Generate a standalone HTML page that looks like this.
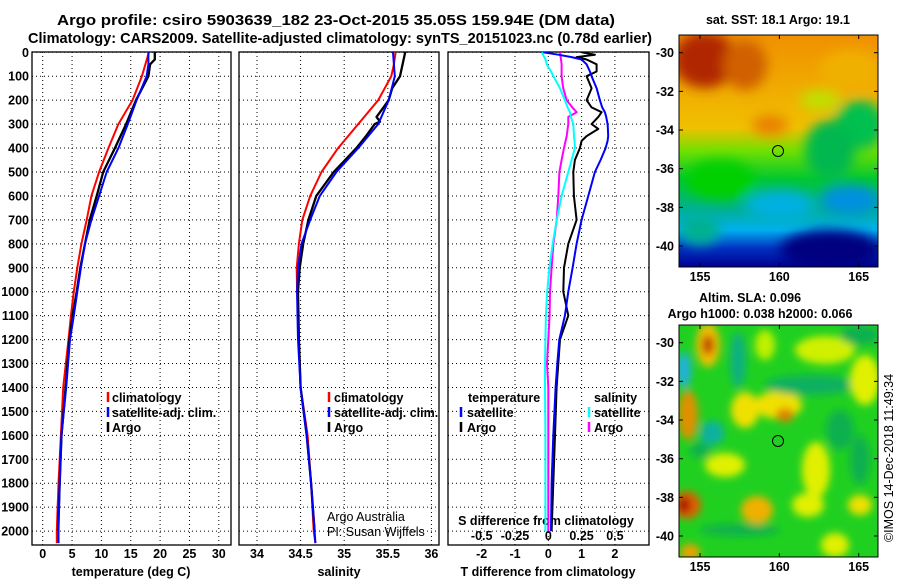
<!DOCTYPE html>
<html><head><meta charset="utf-8"><style>
body{margin:0;background:#fff;}
svg{display:block;font-family:"Liberation Sans",sans-serif;}
.b{font-weight:bold;font-size:12.5px;}
.n{font-size:12.5px;}
</style></head><body>
<svg id="chart" width="900" height="580" viewBox="0 0 900 580" xmlns="http://www.w3.org/2000/svg">
<defs>
<filter id="bl" x="-50%" y="-50%" width="200%" height="200%"><feGaussianBlur stdDeviation="6"/></filter>
<filter id="bl2" x="-50%" y="-50%" width="200%" height="200%"><feGaussianBlur stdDeviation="4"/></filter>
<clipPath id="c1"><rect x="679" y="35" width="199" height="232"/></clipPath>
<clipPath id="c2"><rect x="679" y="325" width="199" height="232"/></clipPath>
<linearGradient id="sst" x1="0" y1="0" x2="0" y2="1">
<stop offset="0" stop-color="#f09000"/><stop offset="0.4" stop-color="#f0c000"/><stop offset="0.5" stop-color="#70e000"/><stop offset="0.62" stop-color="#00c830"/><stop offset="0.75" stop-color="#00b090"/><stop offset="0.84" stop-color="#00b0f0"/><stop offset="0.92" stop-color="#0030c0"/><stop offset="1" stop-color="#000090"/>
</linearGradient>
</defs>
<text class="b" x="57" y="25" textLength="558" lengthAdjust="spacingAndGlyphs" style="font-size:15px">Argo profile: csiro 5903639_182 23-Oct-2015 35.05S 159.94E (DM data)</text>
<text class="b" x="28" y="43" textLength="624" lengthAdjust="spacingAndGlyphs" style="font-size:15px">Climatology: CARS2009. Satellite-adjusted climatology: synTS_20151023.nc (0.78d earlier)</text>
<g id="plots"></g>

<!-- SST map -->
<g clip-path="url(#c1)">
<rect x="679" y="35" width="199" height="232" fill="url(#sst)"/>
<g filter="url(#bl)">
<ellipse cx="705" cy="60" rx="32" ry="28" fill="#b02800"/>
<ellipse cx="745" cy="65" rx="22" ry="25" fill="#d06000"/>
<ellipse cx="770" cy="125" rx="18" ry="10" fill="#e88000"/>
<ellipse cx="850" cy="70" rx="30" ry="20" fill="#f0b000"/>
<ellipse cx="820" cy="100" rx="20" ry="10" fill="#c0e000"/>
<ellipse cx="860" cy="125" rx="25" ry="25" fill="#00c050"/>
<ellipse cx="830" cy="150" rx="25" ry="30" fill="#00b850"/>
<ellipse cx="720" cy="180" rx="35" ry="20" fill="#00d000"/>
<ellipse cx="780" cy="205" rx="35" ry="15" fill="#00b0e0"/>
<ellipse cx="850" cy="200" rx="30" ry="15" fill="#0090e0"/>
<ellipse cx="830" cy="250" rx="50" ry="20" fill="#000080"/>
<ellipse cx="700" cy="230" rx="20" ry="15" fill="#00b090"/>
</g>
</g>
<rect x="679" y="35" width="199" height="232" fill="none" stroke="#000"/>
<circle cx="778" cy="151" r="5.5" fill="none" stroke="#000"/>
<text class="b" x="778" y="24" text-anchor="middle">sat. SST: 18.1 Argo: 19.1</text>

<!-- SLA map -->
<g clip-path="url(#c2)">
<rect x="679" y="325" width="199" height="232" fill="#20d020"/>
<g filter="url(#bl2)">
<ellipse cx="708" cy="345" rx="12" ry="22" fill="#f0c000"/>
<ellipse cx="708" cy="345" rx="6" ry="10" fill="#c04000"/>
<ellipse cx="684" cy="370" rx="7" ry="18" fill="#20b0e0"/>
<ellipse cx="738" cy="360" rx="8" ry="28" fill="#10b080"/>
<ellipse cx="688" cy="415" rx="10" ry="25" fill="#e09000"/>
<ellipse cx="712" cy="433" rx="12" ry="12" fill="#10b0a0"/>
<ellipse cx="745" cy="410" rx="14" ry="18" fill="#f0e000"/>
<ellipse cx="778" cy="405" rx="24" ry="14" fill="#f0e000"/>
<ellipse cx="785" cy="415" rx="9" ry="7" fill="#e08000"/>
<ellipse cx="810" cy="385" rx="45" ry="10" fill="#10b060"/>
<ellipse cx="825" cy="350" rx="30" ry="14" fill="#d0f000"/>
<ellipse cx="865" cy="380" rx="15" ry="25" fill="#e0f000"/>
<ellipse cx="816" cy="470" rx="14" ry="28" fill="#e0f000"/>
<ellipse cx="840" cy="430" rx="14" ry="20" fill="#10b050"/>
<ellipse cx="860" cy="460" rx="10" ry="25" fill="#10b050"/>
<ellipse cx="725" cy="465" rx="20" ry="12" fill="#e0f000"/>
<ellipse cx="700" cy="450" rx="10" ry="8" fill="#10b050"/>
<ellipse cx="687" cy="505" rx="14" ry="14" fill="#e06000"/>
<ellipse cx="684" cy="505" rx="6" ry="8" fill="#a00000"/>
<ellipse cx="757" cy="510" rx="16" ry="14" fill="#f0b000"/>
<ellipse cx="808" cy="505" rx="16" ry="12" fill="#e0f000"/>
<ellipse cx="860" cy="505" rx="12" ry="10" fill="#f0e000"/>
<ellipse cx="740" cy="530" rx="40" ry="6" fill="#10b050"/>
<ellipse cx="835" cy="545" rx="14" ry="12" fill="#e0f000"/>
<ellipse cx="690" cy="552" rx="10" ry="8" fill="#f0a000"/>
<ellipse cx="860" cy="335" rx="20" ry="10" fill="#10b050"/>
<ellipse cx="765" cy="345" rx="10" ry="15" fill="#c0f000"/>
</g>
</g>
<rect x="679" y="325" width="199" height="232" fill="none" stroke="#000"/>
<circle cx="778" cy="441" r="5.5" fill="#20d020" stroke="#000"/>
<text class="b" x="750" y="302" text-anchor="middle">Altim. SLA: 0.096</text>
<text class="b" x="760" y="318" text-anchor="middle">Argo h1000: 0.038 h2000: 0.066</text>
<text class="n" transform="translate(893,458) rotate(-90)" text-anchor="middle">©IMOS 14-Dec-2018 11:49:34</text>
<g id="maps"></g>
</svg>
<script>
// ---- data ----
const depthT = [0,50,100,200,300,400,500,600,700,800,900,1000,1100,1200,1400,1600,1800,2000,2050];
const tempClim = [18.1,17.5,16.9,15.3,12.9,11.2,9.6,8.3,7.5,6.6,5.9,5.3,4.8,4.4,3.5,3.1,2.7,2.4,2.4];
const tempSat = [18.0,18.0,17.7,16.0,14.5,12.9,10.9,9.6,8.3,7.2,6.5,5.9,5.3,4.65,4.0,3.2,2.9,2.7,2.7];
const depthArgo = [0,30,50,100,200,300,400,500,600,700,800,900,1000,1100,1200,1400,1600,1800,2000];
const tempArgo = [19.1,19.1,18.3,18.0,15.9,14.2,12.3,10.3,9.2,8.0,7.2,6.4,5.8,5.1,4.55,3.9,3.2,2.9,2.6];
const salClim = [35.59,35.57,35.54,35.39,35.16,34.93,34.74,34.61,34.52,34.48,34.455,34.46,34.47,34.48,34.5,34.58,34.62,34.65,34.67];
const salSat = [35.56,35.57,35.58,35.51,35.39,35.16,34.91,34.72,34.61,34.51,34.47,34.46,34.465,34.47,34.5,34.57,34.62,34.66,34.67];
const depthSA = [0,50,100,150,200,250,270,290,300,350,400,450,500,600,700,800,900,1000,1200,1400,1600,1800,2000];
const salArgo = [35.70,35.67,35.64,35.55,35.51,35.41,35.37,35.41,35.35,35.25,35.14,35.01,34.88,34.68,34.59,34.53,34.49,34.47,34.48,34.5,34.57,34.62,34.66];
const depthD = [0,10,20,30,50,80,100,150,200,230,250,270,300,320,350,370,400,450,500,600,700,800,900,1000,1100,1200,1300,1400,1600,1800,2000];
const dTsat = [-0.15,0.3,0.7,1.0,1.15,1.25,1.3,1.45,1.55,1.62,1.7,1.74,1.78,1.79,1.8,1.78,1.72,1.57,1.4,1.2,1.0,0.85,0.73,0.6,0.5,0.33,0.27,0.22,0.15,0.1,0.08];
const dTargo = [1.0,1.4,0.85,1.15,1.45,1.45,1.15,1.3,1.15,1.3,1.6,1.5,1.3,1.5,1.15,1.0,0.95,0.8,0.75,0.77,0.85,0.6,0.47,0.45,0.6,0.35,0.3,0.25,0.2,0.15,0.1];
const dSsat = [-0.05,-0.04,-0.03,-0.02,-0.012,0.02,0.038,0.088,0.125,0.145,0.163,0.17,0.188,0.19,0.193,0.197,0.2,0.175,0.15,0.1,0.063,0.033,0.008,-0.008,-0.018,-0.022,-0.025,-0.025,-0.022,-0.022,-0.022];
const dSargo = [0.088,0.09,0.092,0.095,0.1,0.1,0.1,0.112,0.138,0.18,0.213,0.15,0.15,0.145,0.138,0.13,0.118,0.1,0.083,0.075,0.063,0.038,0.025,0.013,0.01,0.0,-0.01,0.0,0.0,0.0,0.0];
const gridDepths = [0,100,200,300,400,500,600,700,800,900,1000,1100,1200,1300,1400,1500,1600,1700,1800,1900,2000];
const tTicks = [0,5,10,15,20,25,30];
const sTicks = [34,34.5,35,35.5,36];
const dTicks = [-2,-1,0,1,2];
const dsTickLabels = ["-0.5","-0.25","0","0.25","0.5"];
const latTicks = [-30,-32,-34,-36,-38,-40];
const lonTicks = [155,160,165];

// ---- scales ----
const yD = d => 52.3 + 0.2394*d;
const xT = t => 42.7 + 5.87*t;
const xS = s => 257 + 87.2*(s-34);
const xDT = v => 548.3 + 33.3*v;
const xDS = v => 548.3 + 133.2*v;
const NS="http://www.w3.org/2000/svg";
const root=document.getElementById('plots');
function mk(tag,attrs,parent){const e=document.createElementNS(NS,tag);for(const k in attrs)e.setAttribute(k,attrs[k]);(parent||root).appendChild(e);return e;}
function txt(s,x,y,anchor,cls,parent){const e=mk('text',{x:x,y:y,'text-anchor':anchor,'class':cls},parent);e.textContent=s;return e;}

const panels=[{x0:32,x1:231,name:'temperature'},{x0:239,x1:439,name:'salinity'},{x0:448,x1:649,name:'difference'}];
const yTop=52, yBot=545;
panels.forEach((p,i)=>{
  const g=mk('g',{});
  
  
  const xs = i==0? tTicks.map(xT) : i==1? sTicks.map(xS) : dTicks.map(xDT);
  xs.forEach(x=>{const l=mk('line',{x1:x,x2:x,y1:yTop,y2:yBot,stroke:'#000','stroke-width':1,'stroke-dasharray':'1,3'},g);
    
    });
  gridDepths.forEach(d=>{const l=mk('line',{x1:p.x0,x2:p.x1,y1:yD(d),y2:yD(d),stroke:'#000','stroke-width':1,'stroke-dasharray':'1,3'},g);
    
    });
  const r=mk('rect',{x:p.x0,y:yTop,width:p.x1-p.x0,height:yBot-yTop,fill:'none',stroke:'#000','stroke-width':1.3},g);
  
  
});
gridDepths.forEach(d=>{const t=txt(String(d),29,yD(d)+4.5,'end','b');
  
  });
tTicks.forEach(v=>{const t=txt(String(v),xT(v),558,'middle','b');
  
  });
sTicks.forEach(v=>{const t=txt(String(v),xS(v),558,'middle','b');
  
  });
dTicks.forEach(v=>{const t=txt(String(v),xDT(v),558,'middle','b');
  
  });
dTicks.forEach((v,i)=>{const t=txt(dsTickLabels[i],xDT(v),540,'middle','b');
  
  });
[['temperature (deg C)',131,'temperature-axis-title'],['salinity',339,'salinity-axis-title'],['T difference from climatology',548,'t-difference-axis-title']].forEach(a=>{
  const t=txt(a[0],a[1],576,'middle','b');
  
  });
{const t=txt('S difference from climatology',546,525,'middle','b');
 
 }
{const t=txt('Argo Australia',327,521,'start','n');
 
 
 const t2=txt('PI: Susan Wijffels',327,536,'start','n');
 
 }

function line(xf,vals,depths,color,name,w){
  const pts=vals.map((v,i)=>xf(v).toFixed(1)+','+yD(depths[i]).toFixed(1)).join(' ');
  const l=mk('polyline',{points:pts,fill:'none',stroke:color,'stroke-width':w||2,'stroke-linejoin':'round'});
  
  
}
line(xT,tempClim,depthT,'#f00','temperature-climatology-line');
line(xT,tempArgo,depthArgo,'#000','temperature-argo-line',2.3);
line(xT,tempSat,depthT,'#00f','temperature-satellite-line');
line(xS,salClim,depthT,'#f00','salinity-climatology-line');
line(xS,salArgo,depthSA,'#000','salinity-argo-line',2.3);
line(xS,salSat,depthT,'#00f','salinity-satellite-line');
line(xDS,dSargo,depthD,'#f0f','s-difference-argo-line');
line(xDS,dSsat,depthD,'#0ff','s-difference-satellite-line');
line(xDT,dTargo,depthD,'#000','t-difference-argo-line');
line(xDT,dTsat,depthD,'#00f','t-difference-satellite-line');

function leg(mx,tx,y,color,label,name){
  const m=mk('line',{x1:mx,x2:mx,y1:y-10,y2:y,stroke:color,'stroke-width':2.5});
  
  
  const t=txt(label,tx,y,'start','b');
  
  
}
leg(108,112,402,'#f00','climatology','legend-climatology');
leg(108,112,417,'#00f','satellite-adj. clim.','legend-satellite-adj');
leg(108,112,432,'#000','Argo','legend-argo');
leg(329,334,402,'#f00','climatology','legend-sal-climatology');
leg(329,334,417,'#00f','satellite-adj. clim.','legend-sal-satellite-adj');
leg(329,334,432,'#000','Argo','legend-sal-argo');
{const t=txt('temperature',468,402,'start','b');
 
 
 const t2=txt('salinity',594,402,'start','b');
 
 }
leg(461,467,417,'#00f','satellite','legend-t-satellite');
leg(461,467,432,'#000','Argo','legend-t-argo');
leg(589,594,417,'#0ff','satellite','legend-s-satellite');
leg(589,594,432,'#f0f','Argo','legend-s-argo');

// map axes
const mroot=document.getElementById('maps');
const latY=(lat,top)=>top+17.7+(-30-lat)*19.33;
const lonX=lon=>700+(lon-155)*15.87;
[35,325].forEach((top,mi)=>{
  latTicks.forEach(lat=>{const y=latY(lat,top);
    mk('line',{x1:679,x2:683,y1:y,y2:y,stroke:'#000'},mroot);
    mk('line',{x1:874,x2:878,y1:y,y2:y,stroke:'#000'},mroot);
    const t=txt(String(lat),674,y+4.5,'end','b',mroot);
    
    });
  lonTicks.forEach(lon=>{const x=lonX(lon);
    mk('line',{x1:x,x2:x,y1:top,y2:top+4,stroke:'#000'},mroot);
    mk('line',{x1:x,x2:x,y1:top+228,y2:top+232,stroke:'#000'},mroot);
    const t=txt(String(lon),x,top+246,'middle','b',mroot);
    
    });
});
</script>
</body></html>
